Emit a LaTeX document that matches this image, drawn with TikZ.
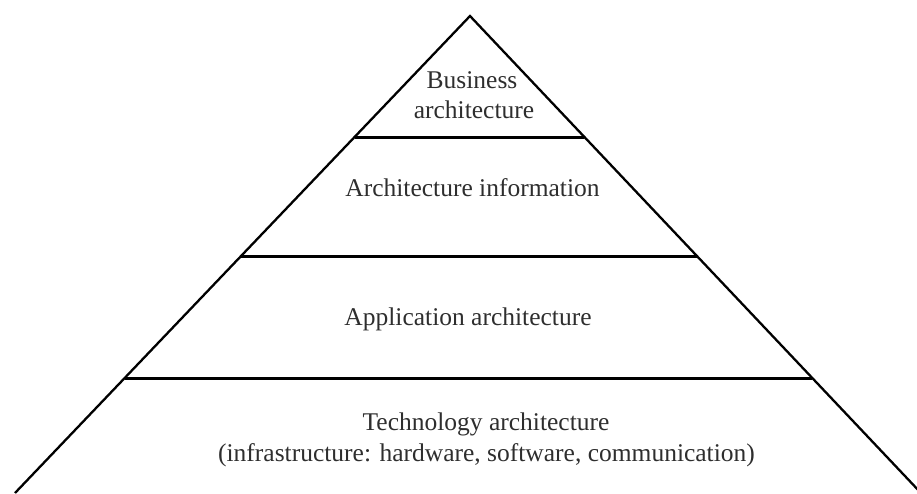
\documentclass[tikz,border=0pt]{standalone}
\usepackage{fontspec}
\setmainfont{Liberation Serif}
\usetikzlibrary{calc}
\begin{document}
\begin{tikzpicture}[x=1pt,y=-1pt,
  side/.style={line width=2.3pt, line join=miter},
  tier/.style={line width=3pt},
  lbl/.style={anchor=base, inner sep=0pt, text=black!82, font=\fontsize{25.5}{30}\selectfont}]
\useasboundingbox (0,0) rectangle (917,493);
\coordinate (A) at (470,16);
\coordinate (BL) at (15,493);
\coordinate (BR) at (921,493);
\draw[side] (BL) -- (A) -- (BR);
% tier separators
\coordinate (l1) at ($(A)!0.2537!(BL)$);
\coordinate (r1) at ($(A)!0.2537!(BR)$);
\coordinate (l2) at ($(A)!0.5052!(BL)$);
\coordinate (r2) at ($(A)!0.5052!(BR)$);
\coordinate (l3) at ($(A)!0.7589!(BL)$);
\coordinate (r3) at ($(A)!0.7589!(BR)$);
\draw[tier] (l1) -- (r1);
\draw[tier] (l2) -- (r2);
\draw[tier] (l3) -- (r3);
% labels
\node[lbl] (bus1) at (472,88) {Business};
\node[lbl] (bus2) at (474,118) {architecture};
\node[lbl] (info) at (472.5,196.5) {Architecture information};
\node[lbl] (app) at (468,325) {Application architecture};
\node[lbl] (tech1) at (486,430) {Technology architecture};
\node[lbl] (tech2) at (486.5,461) {(infrastructure: hardware, software, communication)};
\end{tikzpicture}
\end{document}
